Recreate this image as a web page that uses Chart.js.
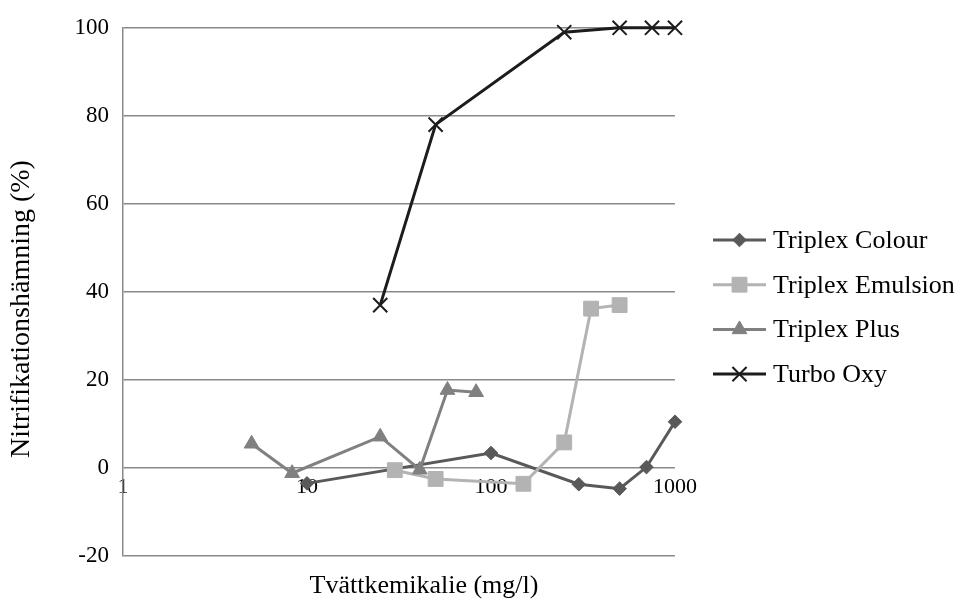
<!DOCTYPE html>
<html>
<head>
<meta charset="utf-8">
<script src="https://cdn.jsdelivr.net/npm/chart.js@4/dist/chart.umd.min.js"></script>
<style>
html,body{margin:0;padding:0;background:#fff;}
</style>
</head>
<body>
<canvas id="chart1" width="959" height="601"></canvas>
<script>
// serier
const seriesNames = ['Triplex Colour', 'Triplex Emulsion', 'Triplex Plus', 'Turbo Oxy'];
const colourX = [10, 100, 300, 500, 700, 1000];
const colourY = [-3.5, 3.4, -3.7, -4.7, 0.2, 10.5];
const emulsionX = [30, 50, 150, 250, 350, 500];
const emulsionY = [-0.5, -2.5, -3.6, 5.8, 36.2, 37];
const plusX = [5, 8.3, 25, 41, 58, 83];
const plusY = [5.5, -1.2, 7.1, -0.4, 17.7, 17.2];
const oxyX = [25, 50, 250, 500, 750, 1000];
const oxyY = [37, 78, 99, 100, 100, 100];
const xTicks = [1, 10, 100, 1000];
const yTicks = [-20, 0, 20, 40, 60, 80, 100];
const xTitle = 'Tvättkemikalie (mg/l)';
const yTitle = 'Nitrifikationshämning (%)';

const serif = "'Liberation Serif', 'Times New Roman', serif";
const gridColor = '#898989';

function pts(xs, ys){
    return xs.map(function(x, i){ return {x: x, y: ys[i]}; });
}

// legend till höger: linje + markör + text
const sideLegend = {
    id: 'sideLegend',
    afterDraw: function(chart){
        var ctx = chart.ctx;
        chart.data.datasets.forEach(function(ds, i){
            var y = 240 + i * 44.7;
            ctx.save();
            ctx.strokeStyle = ds.borderColor;
            ctx.fillStyle = ds.backgroundColor;
            ctx.lineWidth = ds.borderWidth;
            ctx.beginPath();
            ctx.moveTo(713, y);
            ctx.lineTo(766, y);
            ctx.stroke();
            ctx.lineWidth = ds.pointBorderWidth;
            Chart.helpers.drawPoint(ctx, {pointStyle: ds.pointStyle, radius: ds.pointRadius, borderWidth: ds.pointBorderWidth, rotation: 0}, 739.5, y);
            ctx.fillStyle = '#000';
            ctx.font = '26px ' + serif;
            ctx.textBaseline = 'middle';
            ctx.textAlign = 'left';
            ctx.fillText(ds.label, 773, y + 1);
            ctx.restore();
        });
    }
};

// axeltitlar
const axisTitles = {
    id: 'axisTitles',
    afterDraw: function(chart){
        var ctx = chart.ctx;
        ctx.save();
        ctx.fillStyle = '#000';
        ctx.font = '26px ' + serif;
        ctx.textAlign = 'center';
        ctx.textBaseline = 'alphabetic';
        ctx.fillText(xTitle, 424, 593);
        ctx.font = '28px ' + serif;
        ctx.translate(22, 309);
        ctx.rotate(-Math.PI / 2);
        ctx.textBaseline = 'middle';
        ctx.fillText(yTitle, 0, 0);
        ctx.restore();
    }
};

const ctx1 = document.getElementById('chart1').getContext('2d');
const mychart = new Chart(ctx1, {
    type: 'line',
    data: {
        datasets: [{
            label: seriesNames[0],
            data: pts(colourX, colourY),
            borderColor: '#595959',
            backgroundColor: '#595959',
            borderWidth: 3,
            pointStyle: 'rectRot',
            pointRadius: 6.8,
            pointBorderWidth: 1,
            clip: false,
            order: 4
        },
        {
            label: seriesNames[1],
            data: pts(emulsionX, emulsionY),
            borderColor: '#b3b3b3',
            backgroundColor: '#b3b3b3',
            borderWidth: 3,
            pointStyle: 'rect',
            pointRadius: 10.5,
            pointBorderWidth: 1,
            clip: false,
            order: 3
        },
        {
            label: seriesNames[2],
            data: pts(plusX, plusY),
            borderColor: '#808080',
            backgroundColor: '#808080',
            borderWidth: 3,
            pointStyle: 'triangle',
            pointRadius: 8.5,
            pointBorderWidth: 1,
            clip: false,
            order: 2
        },
        {
            label: seriesNames[3],
            data: pts(oxyX, oxyY),
            borderColor: '#1c1c1c',
            backgroundColor: '#1c1c1c',
            borderWidth: 3,
            pointStyle: 'crossRot',
            pointRadius: 10,
            pointBorderWidth: 2,
            clip: false,
            order: 1
        }]
    },
    options: {
        responsive: false,
        animation: false,
        layout: {padding: {left: 0, top: 25, right: 284, bottom: 45}},
        plugins: {legend: {display: false}, tooltip: {enabled: false}},
        scales: {
            x: {
                type: 'logarithmic',
                min: 1,
                max: 1000,
                position: {y: 0},
                afterBuildTicks: function(s){ s.ticks = xTicks.map(function(v){ return {value: v}; }); },
                ticks: {
                    font: {family: serif, size: 22},
                    color: '#000',
                    padding: 6,
                    maxRotation: 0,
                    autoSkip: false,
                    callback: function(v){ return String(v); }
                },
                grid: {display: false, drawTicks: false},
                border: {display: false}
            },
            y: {
                min: -20,
                max: 100,
                afterBuildTicks: function(s){ s.ticks = yTicks.map(function(v){ return {value: v}; }); },
                ticks: {font: {family: serif, size: 23}, color: '#000', padding: 14},
                grid: {color: gridColor, lineWidth: 1.5, drawTicks: false},
                border: {display: true, color: gridColor, width: 1.5},
                afterFit: function(s){ s.width = 123; }
            }
        }
    },
    plugins: [sideLegend, axisTitles]
});
</script>
</body>
</html>
